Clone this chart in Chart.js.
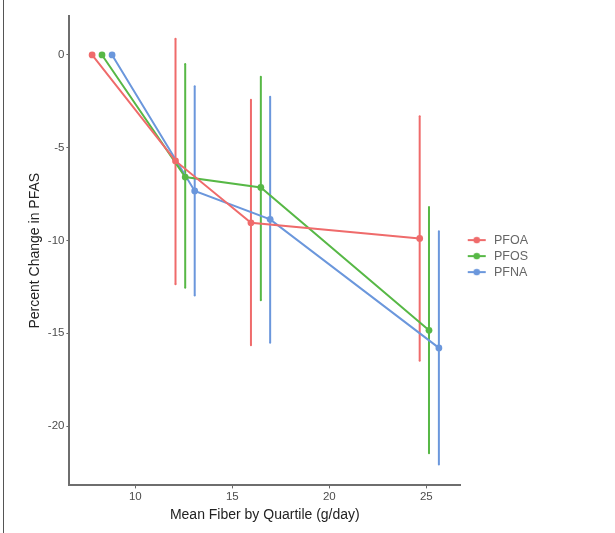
<!DOCTYPE html>
<html>
<head>
<meta charset="utf-8">
<script src="https://cdn.jsdelivr.net/npm/chart.js@4.4.1/dist/chart.umd.min.js"></script>
<style>
  html, body { margin: 0; padding: 0; background: #fff; }
  #wrap { position: relative; width: 615px; height: 533px; }
  #edge { position: absolute; left: 3px; top: 0; width: 1px; height: 533px; background: #555; }
</style>
</head>
<body>
<div id="wrap">
  <canvas id="fiber-chart" width="615" height="533"></canvas>
  <div id="edge"></div>
</div>
<script>
// values (points are dodged per series, as in the original)
const seriesNames = ['PFOA', 'PFOS', 'PFNA'];
const seriesColors = ['#ef6b6b', '#57b846', '#6b97dc'];

const fiberPFOA = [7.77, 12.07, 15.96, 24.66];
const fiberPFOS = [8.28, 12.57, 16.47, 25.14];
const fiberPFNA = [8.80, 13.06, 16.95, 25.65];

const changePFOA = [0, -5.71, -9.05, -9.89];
const changePFOS = [0, -6.58, -7.14, -14.84];
const changePFNA = [0, -7.33, -8.86, -15.79];

const lowerPFOA = [null, -12.36, -15.64, -16.48];
const lowerPFOS = [null, -12.55, -13.22, -21.47];
const lowerPFNA = [null, -12.97, -15.51, -22.07];

const upperPFOA = [null, 0.88, -2.42, -3.30];
const upperPFOS = [null, -0.49, -1.17, -8.20];
const upperPFNA = [null, -1.68, -2.25, -9.50];

const xTicks = [10, 15, 20, 25];
const yTicks = [0, -5, -10, -15, -20];

;(function () {
	const fiber = [fiberPFOA, fiberPFOS, fiberPFNA];
	const change = [changePFOA, changePFOS, changePFNA];
	const lower = [lowerPFOA, lowerPFOS, lowerPFNA];
	const upper = [upperPFOA, upperPFOS, upperPFNA];

	// little line+dot key, like the ggplot legend (blank margin on the left)
	function legendKey(color) {
		const c = document.createElement('canvas');
		c.width = 24; c.height = 8;
		const ctx = c.getContext('2d');
		ctx.strokeStyle = color;
		ctx.lineWidth = 2;
		ctx.beginPath(); ctx.moveTo(4, 4); ctx.lineTo(22, 4); ctx.stroke();
		ctx.fillStyle = color;
		ctx.beginPath(); ctx.arc(13, 4, 3.3, 0, Math.PI * 2); ctx.fill();
		return c;
	}

	const datasets = [];

	// error bars first so lines and points sit on top
	seriesNames.forEach(function (name, s) {
		for (let i = 0; i < fiber[s].length; i++) {
			if (lower[s][i] === null) continue;
			datasets.push({
				type: 'line',
				label: 'ci',
				data: [{ x: fiber[s][i], y: lower[s][i] }, { x: fiber[s][i], y: upper[s][i] }],
				borderColor: seriesColors[s],
				backgroundColor: seriesColors[s],
				borderWidth: 2,
				pointRadius: 1,
				pointBorderWidth: 0,
				pointHoverRadius: 1,
				order: 2,
			});
		}
	});

	seriesNames.forEach(function (name, s) {
		datasets.push({
			type: 'line',
			label: name,
			data: fiber[s].map(function (x, i) { return { x: x, y: change[s][i] }; }),
			borderColor: seriesColors[s],
			backgroundColor: seriesColors[s],
			borderWidth: 2,
			pointRadius: 3.4,
			pointBorderWidth: 0,
			pointStyle: 'circle',
			legendKey: legendKey(seriesColors[s]),
			order: 1,
		});
	});

	const axisFont = { family: "'Liberation Sans', Arial, sans-serif", size: 11.5 };
	const titleFont = { family: "'Liberation Sans', Arial, sans-serif", size: 14 };

	new Chart(document.getElementById('fiber-chart'), {
		type: 'scatter',
		data: { datasets: datasets },
		options: {
			responsive: false,
			animation: false,
			layout: { padding: { left: 23, top: 16, right: 77, bottom: 5 } },
			plugins: {
				tooltip: { enabled: false },
				legend: {
					position: 'right',
					fullSize: false,
					title: { display: true, text: ' ', font: { size: 4 }, padding: 3 },
					labels: {
						usePointStyle: true,
						pointStyleWidth: 24,
						padding: 3.5,
						color: '#333',
						font: { family: "'Liberation Sans', Arial, sans-serif", size: 12.5 },
						filter: function (item) { return item.text !== 'ci'; },
						generateLabels: function (chart) {
							return chart.data.datasets.map(function (d, i) {
								return {
									text: d.label,
									pointStyle: d.legendKey,
									fillStyle: d.borderColor,
									strokeStyle: d.borderColor,
									lineWidth: 0,
									datasetIndex: i,
								};
							});
						},
					},
				},
			},
			scales: {
				x: {
					type: 'linear',
					min: 6.6,
					max: 26.75,
					afterBuildTicks: function (axis) { axis.ticks = xTicks.map(function (v) { return { value: v }; }); },
					ticks: { color: '#4d4d4d', font: axisFont, padding: 2 },
					grid: { display: true, drawOnChartArea: false, tickLength: 3, color: '#666', tickWidth: 1 },
					border: { color: '#6e6e6e', width: 2 },
					title: { display: true, text: 'Mean Fiber by Quartile (g/day)', color: '#222', font: titleFont, padding: { top: 1 } },
				},
				y: {
					type: 'linear',
					min: -23.2,
					max: 2.1,
					afterBuildTicks: function (axis) { axis.ticks = yTicks.map(function (v) { return { value: v }; }); },
					ticks: { color: '#4d4d4d', font: axisFont, padding: 2 },
					grid: { display: true, drawOnChartArea: false, tickLength: 3, color: '#666', tickWidth: 1 },
					border: { color: '#6e6e6e', width: 2 },
					title: { display: true, text: 'Percent Change in PFAS', color: '#222', font: titleFont, padding: { bottom: 2 } },
				},
			},
		},
	});
})();
</script>
</body>
</html>
